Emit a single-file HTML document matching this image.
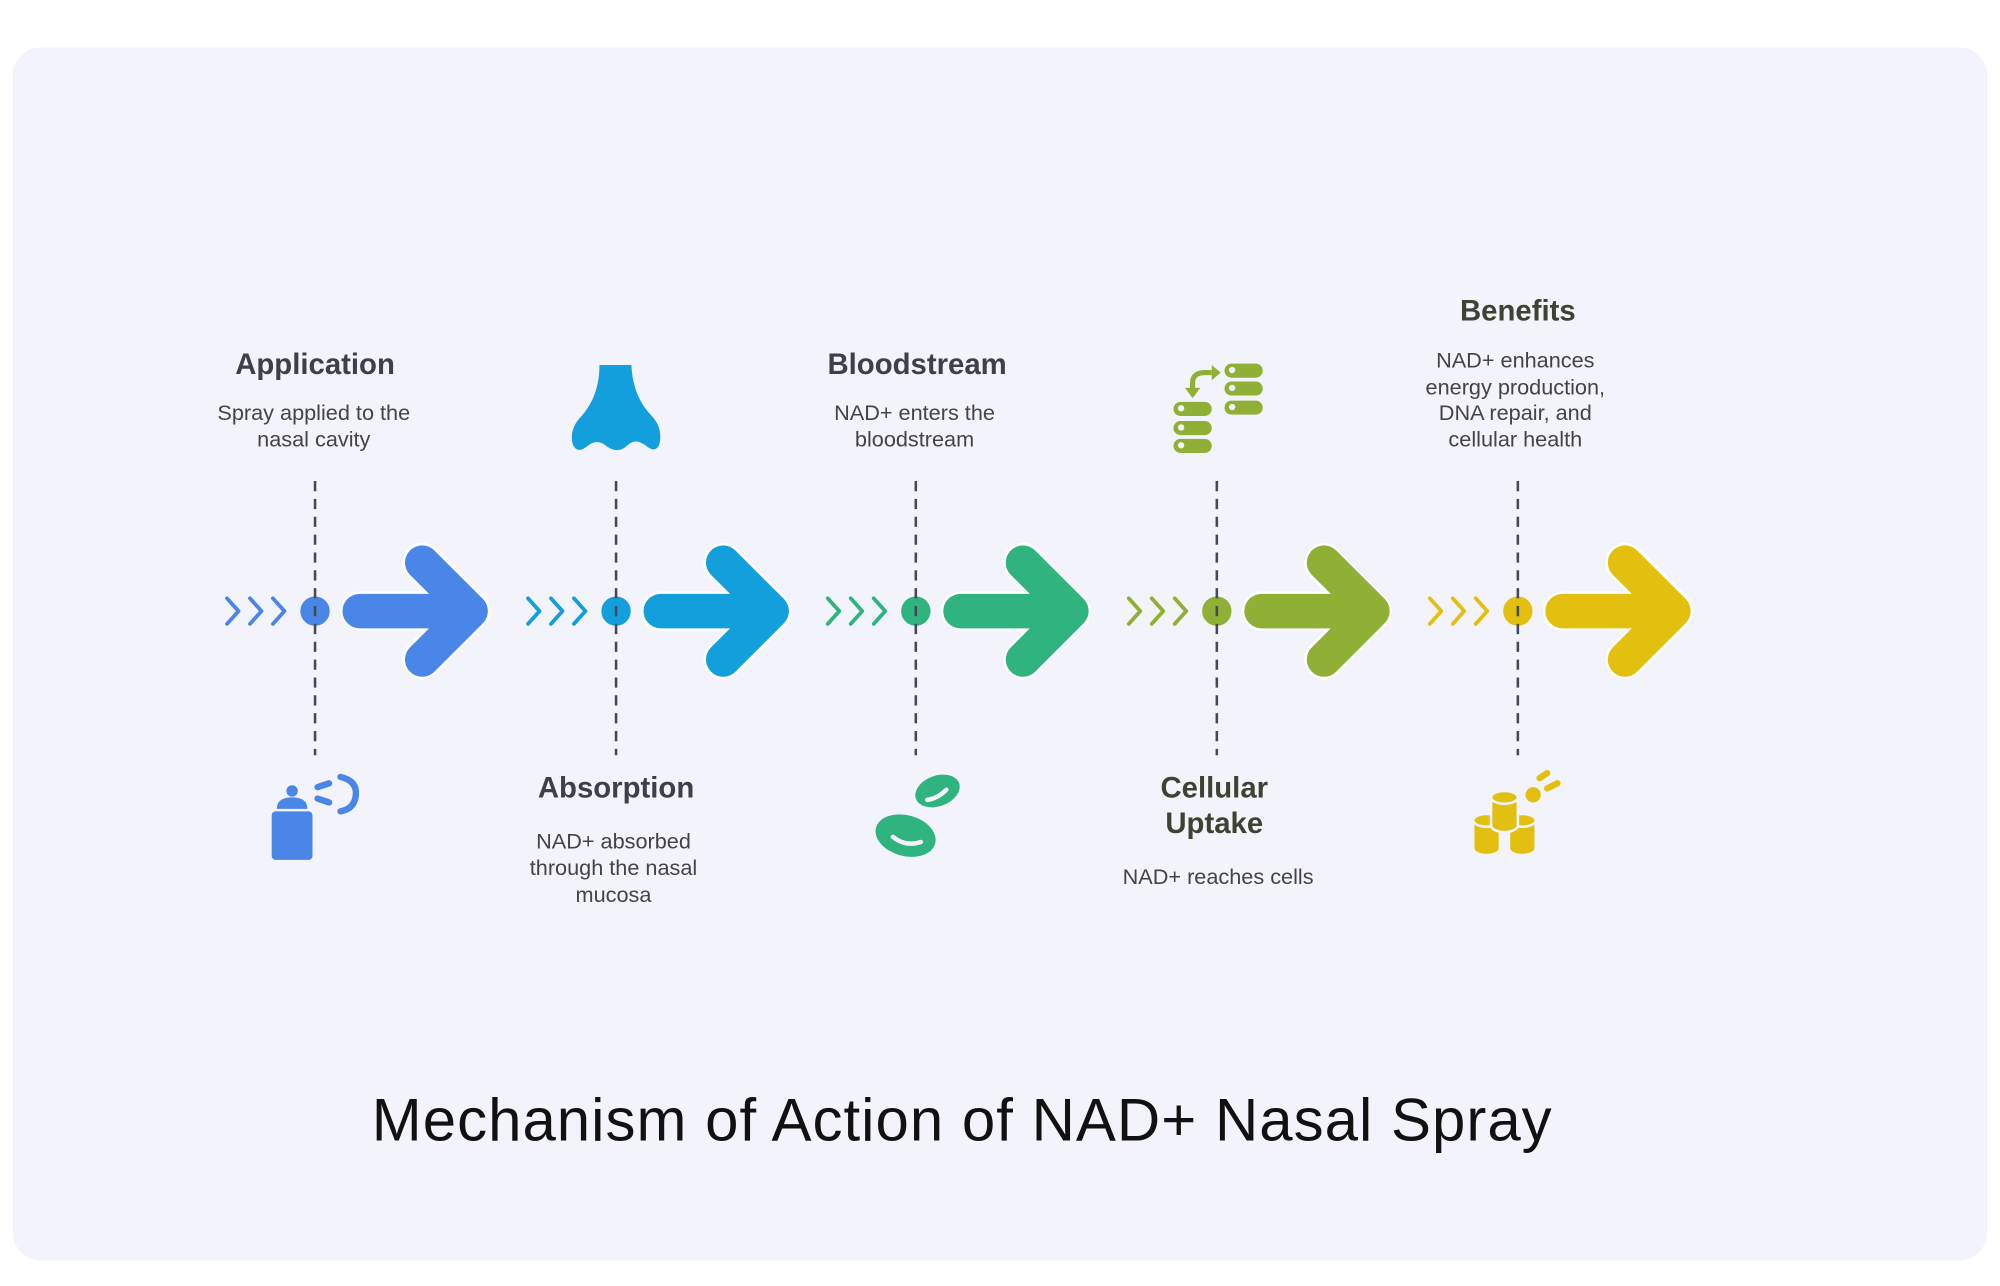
<!DOCTYPE html>
<html><head><meta charset="utf-8"><style>
html,body{margin:0;padding:0;background:#fff;}
svg{display:block}
text{font-family:"Liberation Sans",Arial,sans-serif;}
</style></head><body>
<svg width="2000" height="1286" viewBox="0 0 1568 1008" xmlns="http://www.w3.org/2000/svg">
<rect x="0" y="0" width="1568" height="1008" fill="#fff"/>
<rect x="10" y="37" width="1548" height="951" rx="22" fill="#f3f3fc"/>

<defs>
<g id="step">
  <circle cx="0" cy="479" r="11"/>
  <path d="M-69,469 l9,10 l-9,10 M-51,469 l9,10 l-9,10 M-33,469 l9,10 l-9,10" fill="none" stroke-width="3" stroke-linecap="round" stroke-linejoin="round"/>
  <path d="M35,479 H122 M84,441 L122,479 L84,517" fill="none" stroke="#fff" stroke-width="31" stroke-linecap="round" stroke-linejoin="round"/>
</g>
</defs>

<g transform="translate(247,0)" fill="#4a86e8" stroke="#4a86e8">
  <use href="#step"/>
  <path d="M35,479 H122 M84,441 L122,479 L84,517" fill="none" stroke-width="27" stroke-linecap="round" stroke-linejoin="round"/>
</g>
<g transform="translate(483,0)" fill="#129fdc" stroke="#129fdc">
  <use href="#step"/>
  <path d="M35,479 H122 M84,441 L122,479 L84,517" fill="none" stroke-width="27" stroke-linecap="round" stroke-linejoin="round"/>
</g>
<g transform="translate(718,0)" fill="#2fb37f" stroke="#2fb37f">
  <use href="#step"/>
  <path d="M35,479 H122 M84,441 L122,479 L84,517" fill="none" stroke-width="27" stroke-linecap="round" stroke-linejoin="round"/>
</g>
<g transform="translate(954,0)" fill="#8fb034" stroke="#8fb034">
  <use href="#step"/>
  <path d="M35,479 H122 M84,441 L122,479 L84,517" fill="none" stroke-width="27" stroke-linecap="round" stroke-linejoin="round"/>
</g>
<g transform="translate(1190,0)" fill="#e3c010" stroke="#e3c010">
  <use href="#step"/>
  <path d="M35,479 H122 M84,441 L122,479 L84,517" fill="none" stroke-width="27" stroke-linecap="round" stroke-linejoin="round"/>
</g>
<g stroke="#444955" stroke-width="2" stroke-dasharray="8,6">
<line x1="247" y1="377" x2="247" y2="592"/><line x1="483" y1="377" x2="483" y2="592"/>
<line x1="718" y1="377" x2="718" y2="592"/><line x1="954" y1="377" x2="954" y2="592"/>
<line x1="1190" y1="377" x2="1190" y2="592"/>
</g>

<g text-anchor="middle">
<text x="247" y="293" font-size="23" font-weight="bold" fill="#3b404c">Application</text>
<text x="246" y="329" font-size="17" fill="#444">Spray applied to the</text>
<text x="246" y="350" font-size="17" fill="#444">nasal cavity</text>

<text x="483" y="625" font-size="23" font-weight="bold" fill="#3b404c">Absorption</text>
<text x="481" y="665" font-size="17" fill="#444">NAD+ absorbed</text>
<text x="481" y="686" font-size="17" fill="#444">through the nasal</text>
<text x="481" y="707" font-size="17" fill="#444">mucosa</text>

<text x="719" y="293" font-size="23" font-weight="bold" fill="#3b404c">Bloodstream</text>
<text x="717" y="329" font-size="17" fill="#444">NAD+ enters the</text>
<text x="717" y="350" font-size="17" fill="#444">bloodstream</text>

<text x="952" y="625" font-size="23" font-weight="bold" fill="#3e4232">Cellular</text>
<text x="952" y="653" font-size="23" font-weight="bold" fill="#3e4232">Uptake</text>
<text x="955" y="693" font-size="17" fill="#444">NAD+ reaches cells</text>

<text x="1190" y="251" font-size="23" font-weight="bold" fill="#3e4232">Benefits</text>
<text x="1188" y="288" font-size="17" fill="#444">NAD+ enhances</text>
<text x="1188" y="309" font-size="17" fill="#444">energy production,</text>
<text x="1188" y="329" font-size="17" fill="#444">DNA repair, and</text>
<text x="1188" y="350" font-size="17" fill="#444">cellular health</text>

<text x="754" y="894" font-size="47" fill="#111" textLength="925" lengthAdjust="spacing">Mechanism of Action of NAD+ Nasal Spray</text>
</g>

<!-- spray icon -->
<g fill="#4a86e8">
  <rect x="213" y="636" width="32" height="38" rx="3"/>
  <path d="M217,634 Q217,625 229,625 Q241,625 241,634 Z"/>
  <circle cx="229" cy="620" r="4.5"/>
  <g stroke="#4a86e8" stroke-width="5" stroke-linecap="round" fill="none">
    <line x1="249" y1="617" x2="258" y2="614"/>
    <line x1="249" y1="626" x2="258" y2="629"/>
    <path d="M267,609 Q280,612 279,623 Q278,634 267,636"/>
  </g>
</g>
<!-- nose icon -->
<path fill="#129fdc" d="M470,286 H495 Q496,310 510,325 Q520,335 517,348 Q514,356 506,349 Q498,343 492,349 Q485,356 476,350 Q468,343 460,350 Q452,356 449,348 Q446,336 456,326 Q470,310 470,286 Z"/>
<!-- blood cells -->
<g fill="#2fb37f">
  <ellipse cx="735" cy="620" rx="18" ry="12" transform="rotate(-20 735 620)"/>
  <ellipse cx="710" cy="655" rx="24" ry="16" transform="rotate(15 710 655)"/>
  <path d="M727,627 Q735,626 742,619" stroke="#f3f3fc" stroke-width="3.5" fill="none" stroke-linecap="round"/>
  <path d="M700,656 Q710,664 722,660" stroke="#f3f3fc" stroke-width="3.5" fill="none" stroke-linecap="round"/>
</g>
<!-- servers -->
<g fill="#8fb034">
  <rect x="920" y="315" width="30" height="11" rx="5.5"/><rect x="920" y="330" width="30" height="11" rx="5.5"/><rect x="920" y="344" width="30" height="11" rx="5.5"/>
  <rect x="960" y="285" width="30" height="11" rx="5.5"/><rect x="960" y="299" width="30" height="11" rx="5.5"/><rect x="960" y="314" width="30" height="11" rx="5.5"/>
  <g fill="#f3f3fc"><circle cx="926" cy="320" r="2.5"/><circle cx="926" cy="335" r="2.5"/><circle cx="926" cy="349" r="2.5"/><circle cx="966" cy="290" r="2.5"/><circle cx="966" cy="304" r="2.5"/><circle cx="966" cy="319" r="2.5"/></g>
  <path d="M935,310 V300 Q935,292 945,292 H950" stroke="#8fb034" stroke-width="4" fill="none"/>
  <path d="M950,286 L957,292 L950,298 Z M929,304 L935,312 L941,304 Z"/>
</g>
<!-- coins -->
<g fill="#e3c010" stroke="#f3f3fc" stroke-width="2">
  <path d="M1155,643 v22 a10,5 0 0 0 21,0 v-22 z"/><ellipse cx="1165.5" cy="643" rx="10.5" ry="5"/>
  <path d="M1183,643 v22 a10,5 0 0 0 21,0 v-22 z"/><ellipse cx="1193.5" cy="643" rx="10.5" ry="5"/>
  <path d="M1169,625 v22 a10,5 0 0 0 21,0 v-22 z"/><ellipse cx="1179.5" cy="625" rx="10.5" ry="5"/>
  <circle cx="1202" cy="623" r="7"/>
</g>
<g stroke="#e3c010" stroke-width="5" stroke-linecap="round">
  <line x1="1207" y1="610" x2="1213" y2="606"/><line x1="1213" y1="618" x2="1221" y2="614"/>
</g>
</svg>
</body></html>
